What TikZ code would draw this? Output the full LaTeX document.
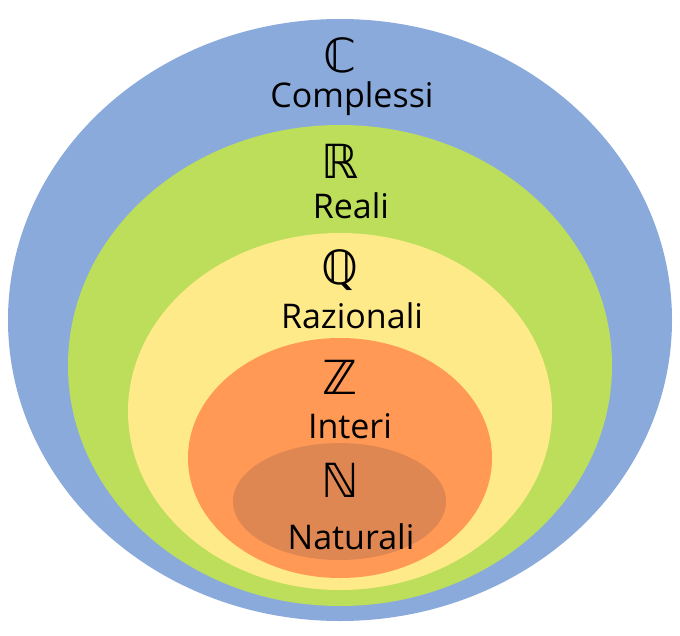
\documentclass[tikz,border=0pt]{standalone}
\usepackage{fontspec}
\setmainfont{Open Sans}
\newfontfamily\dsfont{DejaVu Sans}
\definecolor{cblue}{RGB}{138,170,220}
\definecolor{cgreen}{RGB}{188,222,90}
\definecolor{cyellow}{RGB}{255,234,138}
\definecolor{corange}{RGB}{255,153,85}
\definecolor{cbrown}{RGB}{222,135,83}
\tikzset{
  lbl/.style={anchor=base, inner sep=0pt, font=\fontsize{34}{36}\selectfont},
  sym/.style={anchor=center, inner sep=0pt, font=\dsfont\fontsize{47}{49}\selectfont}
}
\begin{document}
\begin{tikzpicture}[x=1pt,y=-1pt]
\useasboundingbox (0,0) rectangle (680,635);
\fill[white] (0,0) rectangle (680,635);
\fill[cblue] (340,320) ellipse [x radius=332, y radius=301];
\fill[cgreen] (340,365.5) ellipse [x radius=272, y radius=240.5];
\fill[cyellow] (340,411.5) ellipse [x radius=212, y radius=178.5];
\fill[corange] (340,458) ellipse [x radius=152, y radius=120];
\fill[cbrown] (339.5,501.5) ellipse [x radius=106.5, y radius=58.5];
\node[sym] (sC) at (340,55) {ℂ};
\node[lbl] (tC) at (352,107) {Complessi};
\node[sym] (sR) at (340,161) {ℝ};
\node[lbl] (tR) at (351,218) {Reali};
\node[sym] (sQ) at (340,270) {ℚ};
\node[lbl] (tQ) at (352,328) {Razionali};
\node[sym] (sZ) at (340,377) {ℤ};
\node[lbl] (tZ) at (350,438) {Interi};
\node[sym] (sN) at (340,480) {ℕ};
\node[lbl] (tN) at (351,549) {Naturali};
\end{tikzpicture}
\end{document}
